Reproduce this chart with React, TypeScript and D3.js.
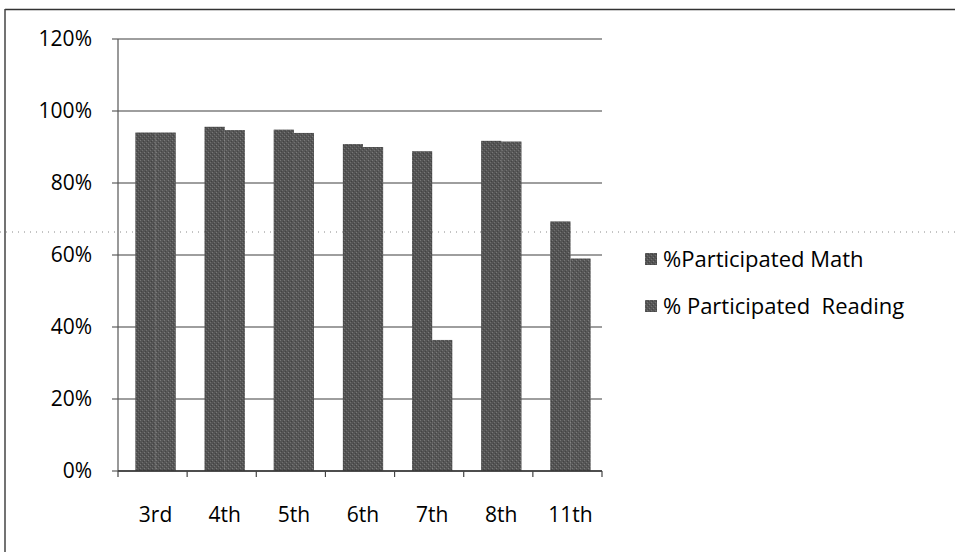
import React from "react";
import * as d3 from "d3";

const categories = ["3rd", "4th", "5th", "6th", "7th", "8th", "11th"];
const mathValues = [0.94, 0.956, 0.948, 0.908, 0.888, 0.917, 0.693];
const readingValues = [0.94, 0.947, 0.939, 0.90, 0.364, 0.915, 0.59];
const seriesNames = ["%Participated Math", "% Participated  Reading"];
const yTicks = [0, 0.2, 0.4, 0.6, 0.8, 1.0, 1.2];

const W = 955;
const H = 552;
const plot = { left: 118, right: 602, top: 39, bottom: 471 };
const FONT = "'Open Sans', 'Liberation Sans', sans-serif";

export default function App() {
  const x = d3.scaleBand<string>().domain(categories).range([plot.left, plot.right]).paddingInner(0).paddingOuter(0);
  const inner = d3.scaleBand<string>().domain(["m", "r"]).range([3, x.bandwidth() + 3]).paddingOuter(0.72).paddingInner(0);
  const y = d3.scaleLinear().domain([0, 1.2]).range([plot.bottom, plot.top]);
  const colors = ["#545454", "#595959"];
  const series = [mathValues, readingValues];

  return (
    <svg width={W} height={H} style={{ position: "absolute", left: 0, top: 0, background: "#fff" }}>
      <defs>
        <pattern id="grain" width="4" height="4" patternUnits="userSpaceOnUse">
          <rect width="4" height="4" fill="#555" />
          <rect x="0" y="0" width="1" height="1" fill="#9a9a9a" />
          <rect x="2" y="2" width="1" height="1" fill="#8a8a8a" />
          <rect x="1" y="3" width="1" height="1" fill="#333" />
          <rect x="3" y="1" width="1" height="1" fill="#2e2e2e" />
        </pattern>
      </defs>
      {/* outer border */}
      <line x1={5} x2={W} y1={9.5} y2={9.5} stroke="#333" strokeWidth={1.5} />
      <line x1={5} x2={5} y1={9} y2={H} stroke="#444" strokeWidth={1.5} />
      {/* scan fold dotted line */}
      <line x1={0} x2={W} y1={232} y2={232} stroke="#888" strokeWidth={1} strokeDasharray="1 5" />

      {/* gridlines and y ticks */}
      {yTicks.map((t) => (
        <g key={t}>
          <line x1={plot.left - 6} x2={plot.right} y1={y(t)} y2={y(t)} stroke="#3f3f3f" strokeWidth={1.2} />
          <text x={92} y={y(t)} dy="0.35em" textAnchor="end" fontFamily={FONT} fontSize={21} fill="#000">
            {d3.format(".0%")(t)}
          </text>
        </g>
      ))}
      {/* y axis */}
      <line x1={plot.left} x2={plot.left} y1={plot.top} y2={plot.bottom} stroke="#555" strokeWidth={1.2} />

      {/* bars */}
      {categories.map((c, i) => (
        <g key={c}>
          {series.map((vals, s) => (
            <rect
              key={s}
              x={(x(c) as number) + (inner(s === 0 ? "m" : "r") as number)}
              y={y(vals[i])}
              width={inner.bandwidth()}
              height={plot.bottom - y(vals[i])}
              fill={colors[s]}
            />
          ))}
          {series.map((vals, s) => (
            <rect
              key={"g" + s}
              x={(x(c) as number) + (inner(s === 0 ? "m" : "r") as number)}
              y={y(vals[i])}
              width={inner.bandwidth()}
              height={plot.bottom - y(vals[i])}
              fill="url(#grain)"
              opacity={0.5}
            />
          ))}
        </g>
      ))}

      {/* x axis */}
      <line x1={plot.left} x2={plot.right} y1={plot.bottom} y2={plot.bottom} stroke="#333" strokeWidth={1.5} />
      {categories.concat([""]).map((c, i) => {
        const xx = plot.left + i * x.step();
        return <line key={"t" + i} x1={xx} x2={xx} y1={plot.bottom} y2={plot.bottom + 6} stroke="#444" strokeWidth={1.2} />;
      })}
      {categories.map((c) => (
        <text key={"l" + c} x={(x(c) as number) + x.bandwidth() / 2 + 3} y={522} textAnchor="middle" fontFamily={FONT} fontSize={21} fill="#000">
          {c}
        </text>
      ))}

      {/* legend */}
      {seriesNames.map((name, s) => (
        <g key={name} transform={`translate(645, ${253 + s * 47})`}>
          <rect x={0} y={0} width={12} height={12} fill={colors[s]} />
          <rect x={0} y={0} width={12} height={12} fill="url(#grain)" opacity={0.5} />
          <text x={18} y={14} fontFamily={FONT} fontSize={22} fill="#000" style={{ whiteSpace: "pre" }}>
            {name}
          </text>
        </g>
      ))}
    </svg>
  );
}
